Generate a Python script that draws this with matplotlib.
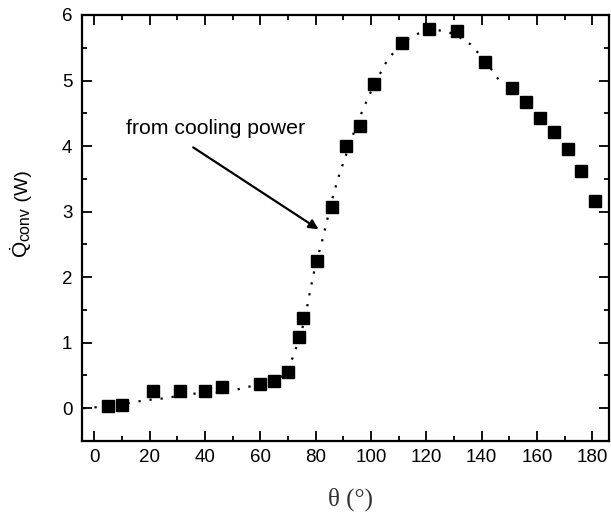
import matplotlib
matplotlib.use("Agg")
import matplotlib.pyplot as plt
from matplotlib.ticker import MultipleLocator

plt.rcParams['font.family'] = ['Liberation Sans', 'DejaVu Sans']
plt.rcParams['mathtext.fontset'] = 'custom'
plt.rcParams['mathtext.rm'] = 'Liberation Sans'
plt.rcParams['mathtext.it'] = 'Liberation Sans:italic'

# measured data (angle in degrees, convective heat in W)
theta = [5, 10, 21, 31, 40, 46, 60, 65, 70, 74, 75.5, 80.5, 86, 91, 96, 101,
         111, 121, 131, 141, 151, 156, 161, 166, 171, 176, 181]
q_conv = [0.04, 0.05, 0.27, 0.27, 0.26, 0.32, 0.37, 0.41, 0.55, 1.09, 1.37, 2.25,
          3.07, 4.0, 4.3, 4.95, 5.58, 5.78, 5.75, 5.28, 4.88, 4.68, 4.43, 4.21,
          3.95, 3.62, 3.16]

# dotted guide curve ("from cooling power")
fit_theta = [-4, 2, 10, 18, 25, 35, 45, 50, 55, 60, 65, 68, 70, 72, 74, 76, 78,
             80, 82, 84, 86, 88, 90, 93, 96, 99, 102, 105, 108, 112, 116, 120,
             124, 128, 132, 136, 140, 143, 146]
fit_q = [0.0, 0.02, 0.06, 0.12, 0.15, 0.22, 0.24, 0.27, 0.32, 0.37, 0.44, 0.49,
         0.56, 0.82, 1.05, 1.35, 1.8, 2.2, 2.5, 2.85, 3.2, 3.5, 3.75, 4.12,
         4.45, 4.75, 5.0, 5.25, 5.42, 5.6, 5.7, 5.76, 5.77, 5.74, 5.66, 5.55,
         5.36, 5.2, 5.02]

x_ticks = [0, 20, 40, 60, 80, 100, 120, 140, 160, 180]
y_ticks = [0, 1, 2, 3, 4, 5, 6]

W, H = 611, 514
fig = plt.figure(figsize=(W / 100, H / 100), dpi=100)
ax = fig.add_axes([82/W, 1-441/H, (609-82)/W, (441-15)/H])

ax.plot(fit_theta, fit_q, color='black', linestyle=(0, (1, 4)), linewidth=1.6)
ax.plot(theta, q_conv, linestyle='none', marker='s', markersize=9,
        color='black')

ax.set_xlim(-4.5, 186)
ax.set_ylim(-0.5, 6)
ax.set_xticks(x_ticks)
ax.set_yticks(y_ticks)
ax.xaxis.set_minor_locator(MultipleLocator(10))
ax.yaxis.set_minor_locator(MultipleLocator(0.5))
ax.tick_params(which='both', direction='in', top=True, right=True,
               width=1.3, labelsize=13.5)
ax.tick_params(axis='x', which='major', pad=6)
ax.tick_params(axis='y', which='major', pad=7)
ax.tick_params(which='major', length=7)
ax.tick_params(which='minor', length=3.5)
for s in ax.spines.values():
    s.set_linewidth(1.6)

# y label assembled from pieces (larger subscript as in the original)
renderer = fig.canvas.get_renderer()
pieces = [(r'$\dot{\mathrm{Q}}$', 15, 0), ('conv', 11.5, 1.5), (' (W)', 14, 0)]
y_px = H - 258
base_x = 28
for txt, fs, drop in pieces:
    t = fig.text((base_x + drop) / W, y_px / H, txt, fontsize=fs, rotation=90,
                 rotation_mode='anchor', ha='left', va='baseline')
    bb = t.get_window_extent(renderer)
    y_px = bb.y1

fig.text(350/W, 1-499/H, 'θ (°)', fontsize=18,
         family=['Liberation Serif', 'DejaVu Serif'], color='#333333',
         ha='center', va='center')

ax.annotate('', xy=(81, 2.73), xytext=(35.7, 3.98),
            arrowprops=dict(arrowstyle='-|>', color='black', lw=1.6,
                            mutation_scale=14, shrinkA=0, shrinkB=0))
ax.text(11.5, 4.27, 'from cooling power', fontsize=15.3, va='center', ha='left')

fig.savefig('out.png', dpi=100)
